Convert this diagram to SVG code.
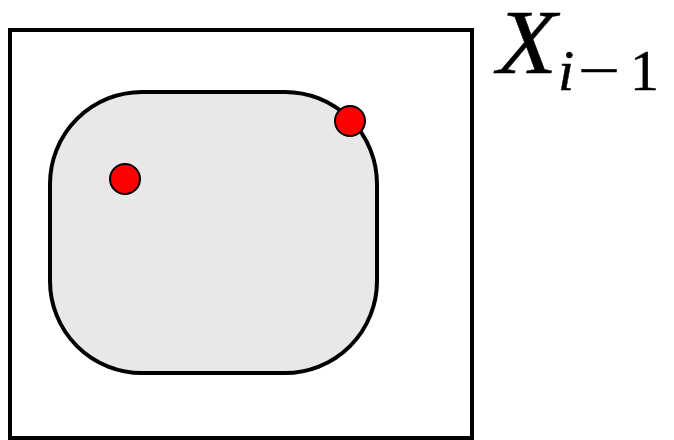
<svg xmlns="http://www.w3.org/2000/svg" width="674" height="440" viewBox="0 0 674 440">
<style>
.frame{fill:#ffffff;stroke:#000000;stroke-width:4}
.blob{fill:#e8e8e8;stroke:#000000;stroke-width:4}
.dot{fill:#ff0000;stroke:#000000;stroke-width:2}
.lbl{font-family:"Liberation Serif","DejaVu Serif",serif;fill:#000000;stroke:#000000;stroke-width:0.5}
</style>
<rect width="674" height="440" fill="#ffffff"/>
<g id="outer">
<rect class="frame" x="10" y="30" width="462" height="408"/>
</g>
<g id="region">
<rect class="blob" x="50" y="92" width="327" height="281" rx="92" ry="92"/>
</g>
<g id="point1">
<circle class="dot" cx="125" cy="179" r="15"/>
</g>
<g id="point2">
<circle class="dot" cx="350" cy="121" r="15"/>
</g>
<g id="connectors"></g>
<g id="label">
<text class="lbl" y="73" font-size="92"><tspan x="497" font-style="italic" textLength="60" lengthAdjust="spacingAndGlyphs">X</tspan><tspan x="558" y="90" font-size="58" font-style="italic">i</tspan><tspan x="578" y="90" font-size="58" textLength="42" lengthAdjust="spacingAndGlyphs">−</tspan><tspan x="630" y="90" font-size="58">1</tspan></text>
</g>
</svg>
